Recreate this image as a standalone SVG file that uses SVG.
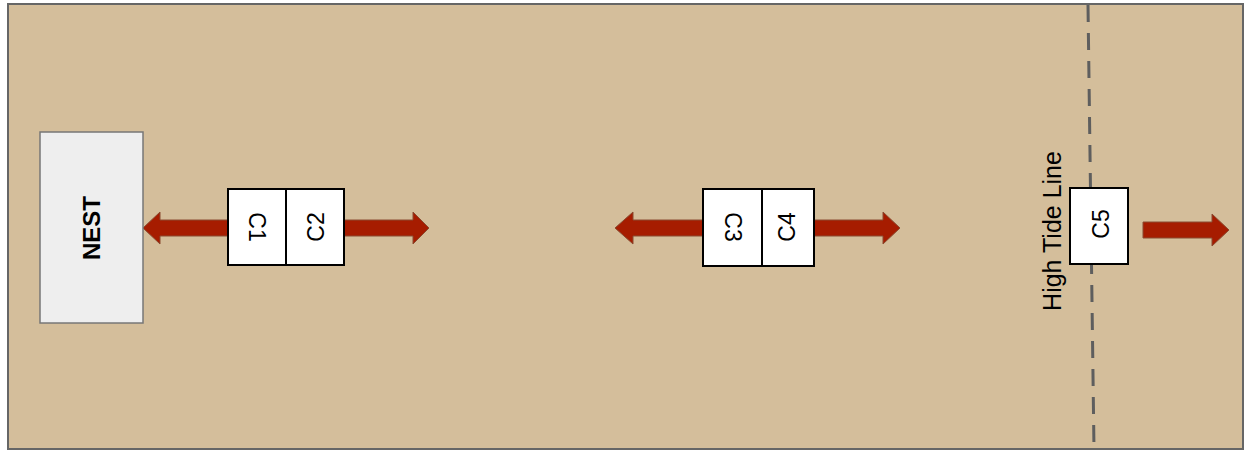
<svg xmlns="http://www.w3.org/2000/svg" width="1248" height="453" viewBox="0 0 1248 453">
  <defs>
    <style>
      .beach { fill: #d4be9b; stroke: #666666; stroke-width: 2; }
      .nest { fill: #eeeeee; stroke: #777777; stroke-width: 1.5; }
      .cell { fill: #ffffff; stroke: #000000; stroke-width: 2; }
      .lbl { font-family: "Liberation Sans", Arial, sans-serif; font-size: 23px; fill: #000000; text-anchor: middle; }
      .nest-lbl { font-family: "Liberation Sans", Arial, sans-serif; font-size: 24px; font-weight: bold; fill: #000000; text-anchor: middle; }
      .tide-lbl { font-family: "Liberation Sans", Arial, sans-serif; font-size: 25px; fill: #000000; text-anchor: middle; }
      .tide { fill: none; stroke: #5e5e5e; stroke-width: 3; stroke-dasharray: 17 11; }
      .arrow { fill: #a61c00; stroke: #8a4a30; stroke-width: 1; stroke-linejoin: miter; }
    </style>
  </defs>

  <!-- sand background -->
  <rect class="beach" x="8" y="4" width="1235" height="445"/>

  <!-- high tide line -->
  <g id="high-tide">
    <line class="tide" x1="1088" y1="5" x2="1094" y2="449"/>
    <text class="tide-lbl" transform="translate(1061,231) rotate(-90)">High Tide Line</text>
  </g>

  <!-- movement arrows -->
  <g id="connectors">
    <!-- C1 toward nest -->
    <polygon class="arrow" points="228,220 160,220 160,212 143,228 160,244 160,236 228,236"/>
    <!-- C2 outward -->
    <polygon class="arrow" points="344,220 413,220 413,212 429,228 413,244 413,236 344,236"/>
    <!-- C3 inward -->
    <polygon class="arrow" points="703,220 633,220 633,212 615,228 633,244 633,236 703,236"/>
    <!-- C4 outward -->
    <polygon class="arrow" points="814,220 883,220 883,212 900,228 883,244 883,236 814,236"/>
    <!-- C5 outward -->
    <polygon class="arrow" points="1143,222 1212,222 1212,214 1229,230 1212,246 1212,238 1143,238"/>
  </g>

  <g id="nest">
    <rect class="nest" x="40" y="132" width="103" height="191"/>
    <text class="nest-lbl" transform="translate(100,228) rotate(-90)">NEST</text>
  </g>

  <g id="c1">
    <rect class="cell" x="228" y="189" width="58" height="76"/>
    <text class="lbl" transform="translate(249,227) rotate(90)">C1</text>
  </g>
  <g id="c2">
    <rect class="cell" x="286" y="189" width="58" height="76"/>
    <text class="lbl" transform="translate(324,227) rotate(-90)">C2</text>
  </g>

  <g id="c3">
    <rect class="cell" x="703" y="189" width="59" height="77"/>
    <text class="lbl" transform="translate(725,227) rotate(90)">C3</text>
  </g>
  <g id="c4">
    <rect class="cell" x="762" y="189" width="52" height="77"/>
    <text class="lbl" transform="translate(795,227) rotate(-90)">C4</text>
  </g>

  <g id="c5">
    <rect class="cell" x="1070" y="188" width="58" height="76"/>
    <text class="lbl" transform="translate(1109,224) rotate(-90)">C5</text>
  </g>
</svg>
